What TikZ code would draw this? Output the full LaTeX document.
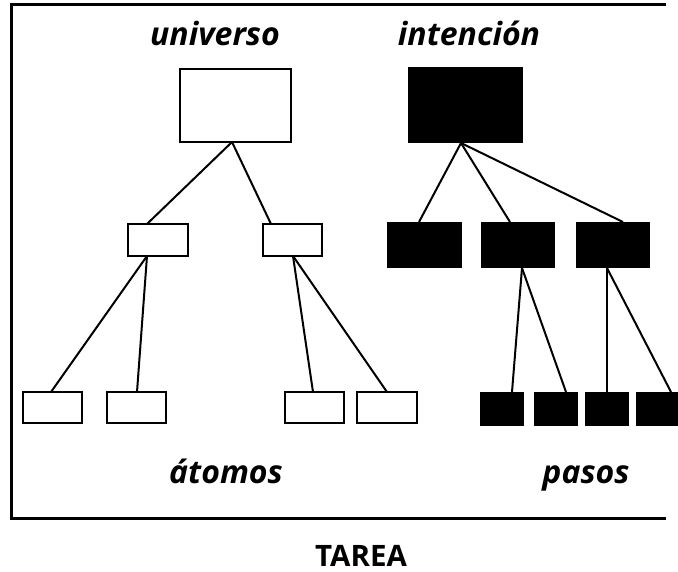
\documentclass[tikz,border=0pt]{standalone}
\usepackage{fontspec}
\setmainfont{Open Sans}
\usetikzlibrary{calc}
\begin{document}
\begin{tikzpicture}[x=1pt,y=-1pt,
  wbox/.style={draw=black, fill=white, line width=2pt, inner sep=0pt, outer sep=0pt},
  bbox/.style={fill=black, draw=none, inner sep=0pt, outer sep=0pt},
  link/.style={draw=black, line width=2pt},
  lbl/.style={anchor=base, inner sep=0pt, font=\fontsize{32}{38}\selectfont\bfseries\itshape},
  ttl/.style={anchor=base, inner sep=0pt, font=\fontsize{29.5}{35}\selectfont\bfseries}]
\useasboundingbox (0,0) rectangle (678,571);

% outer frame, open on the right
\draw[line width=3pt] (666,4) -- (11,4) -- (11,518) -- (666,518);

% left tree: universo -> two groups -> atoms
\node[wbox, minimum width=111pt, minimum height=73pt] (U) at (235.5,105.5) {};
\node[wbox, minimum width=60pt, minimum height=32pt] (L1) at (158,240) {};
\node[wbox, minimum width=59pt, minimum height=32pt] (L2) at (292.5,240) {};
\node[wbox, minimum width=59pt, minimum height=31pt] (A1) at (52.5,407.5) {};
\node[wbox, minimum width=59pt, minimum height=31pt] (A2) at (136.5,407.5) {};
\node[wbox, minimum width=59pt, minimum height=31pt] (A3) at (314.5,407.5) {};
\node[wbox, minimum width=60pt, minimum height=31pt] (A4) at (387,407.5) {};

\draw[link] ([xshift=-3.5pt]U.south) -- ([xshift=-11pt]L1.north);
\draw[link] ([xshift=-3.5pt]U.south) -- ([xshift=-21.5pt]L2.north);
\draw[link] ([xshift=-11pt]L1.south) -- ([xshift=-1.5pt]A1.north);
\draw[link] ([xshift=-11pt]L1.south) -- ([xshift=0.5pt]A2.north);
\draw[link] ([xshift=0.5pt]L2.south) -- ([xshift=-1.5pt]A3.north);
\draw[link] ([xshift=0.5pt]L2.south) -- (A4.north);

% right tree: intencion -> three parts -> steps
\node[bbox, minimum width=115pt, minimum height=76pt] (I) at (465.5,105) {};
\node[bbox, minimum width=75pt, minimum height=46pt] (R1) at (424.5,245) {};
\node[bbox, minimum width=74pt, minimum height=46pt] (R2) at (518,245) {};
\node[bbox, minimum width=74pt, minimum height=46pt] (R3) at (613,245) {};
\node[bbox, minimum width=44pt, minimum height=34pt] (P1) at (502,409) {};
\node[bbox, minimum width=44pt, minimum height=34pt] (P2) at (556,409) {};
\node[bbox, minimum width=44pt, minimum height=34pt] (P3) at (607,409) {};
\node[bbox, minimum width=42pt, minimum height=34pt] (P4) at (657,409) {};

\draw[link] ([xshift=-4.5pt]I.south) -- ([xshift=-5.5pt]R1.north);
\draw[link] ([xshift=-4.5pt]I.south) -- ([xshift=-8pt]R2.north);
\draw[link] ([xshift=-4.5pt]I.south) -- ([xshift=10pt]R3.north);
\draw[link] ([xshift=4pt]R2.south) -- ([xshift=10pt]P1.north);
\draw[link] ([xshift=4pt]R2.south) -- ([xshift=10pt]P2.north);
\draw[link] ([xshift=-6pt]R3.south) -- (P3.north);
\draw[link] ([xshift=-6pt]R3.south) -- ([xshift=14pt]P4.north);

% labels
\node[lbl] (tu) at (215,45) {universo};
\node[lbl] (ti) at (469,45) {intención};
\node[lbl] (ta) at (226,483) {átomos};
\node[lbl] (tp) at (586,483) {pasos};
\node[ttl] (tt) at (361,566) {TAREA};
\end{tikzpicture}
\end{document}
